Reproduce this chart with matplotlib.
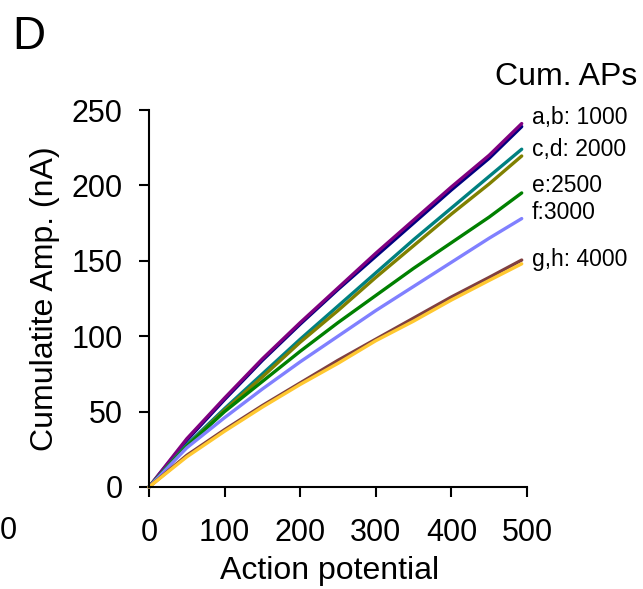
import matplotlib
matplotlib.use("Agg")
import matplotlib.pyplot as plt

plt.rcParams['font.family'] = ['Liberation Sans', 'DejaVu Sans']

# Data
ap = [0, 50, 100, 150, 200, 250, 300, 350, 400, 450, 493]
a_vals = [0, 31, 58, 84, 108, 131, 153, 175, 197, 218, 239]
b_vals = [0, 32, 59, 85, 109, 132, 155, 177, 199, 220, 241]
c_vals = [0, 28, 52, 75, 98, 120, 142, 164, 185, 206, 224]
d_vals = [0, 27, 51, 73, 96, 117, 139, 160, 181, 201, 219.5]
e_vals = [0, 27, 50, 70, 90, 109, 127, 145, 162, 179, 195]
f_vals = [0, 26, 46, 65, 83, 100, 117, 133, 149, 165, 178]
g_vals = [0, 21, 38, 54, 69, 84, 98, 112, 126, 139, 150.5]
h_vals = [0, 20, 37, 53, 68, 82, 97, 110, 124, 137, 148]

series = [
    (a_vals, '#000080'),
    (b_vals, '#800080'),
    (c_vals, '#008080'),
    (d_vals, '#808000'),
    (e_vals, '#008000'),
    (f_vals, '#8080ff'),
    (g_vals, '#804040'),
    (h_vals, '#ffc830'),
]

end_labels = ['a,b: 1000', 'c,d: 2000', 'e:2500', 'f:3000', 'g,h: 4000']
end_label_y = [245, 224, 200, 182, 151]

xticks = [0, 100, 200, 300, 400, 500]
yticks = [0, 50, 100, 150, 200, 250]

fig = plt.figure(figsize=(6.43, 5.89), dpi=100)
ax = fig.add_axes([149/643, 1 - 487/589, (527 - 149)/643, (487 - 110)/589])

for vals, col in series:
    ax.plot(ap, vals, color=col, lw=2.4, solid_capstyle='round',
            solid_joinstyle='round', clip_on=False)

ax.set_xlim(0, 500)
ax.set_ylim(0, 250)
ax.set_xticks(xticks)
ax.set_yticks(yticks)
for s in ['top', 'right']:
    ax.spines[s].set_visible(False)
for s in ['left', 'bottom']:
    ax.spines[s].set_linewidth(1.5)
ax.tick_params(direction='out', length=7, width=1.5, labelsize=22)
ax.tick_params(axis='x', pad=15)
ax.tick_params(axis='y', pad=12)

ax.set_xlabel('Action potential', fontsize=23, labelpad=6)
ax.xaxis.label.set_x(0.477)
ax.set_ylabel('Cumulatite Amp. (nA)', fontsize=23, labelpad=8)

for lab, yv in zip(end_labels, end_label_y):
    ax.text(506, yv, lab, fontsize=16.5, va='center', ha='left', clip_on=False)

ax.text(458, 272, 'Cum. APs', fontsize=23, va='center', ha='left', clip_on=False)

fig.text(12/643, 1 - 37/589, 'D', fontsize=33, va='center', ha='left')
fig.text(0/643, 1 - 531/589, '0', fontsize=22, va='center', ha='left')

fig.savefig('out.png', dpi=100)
